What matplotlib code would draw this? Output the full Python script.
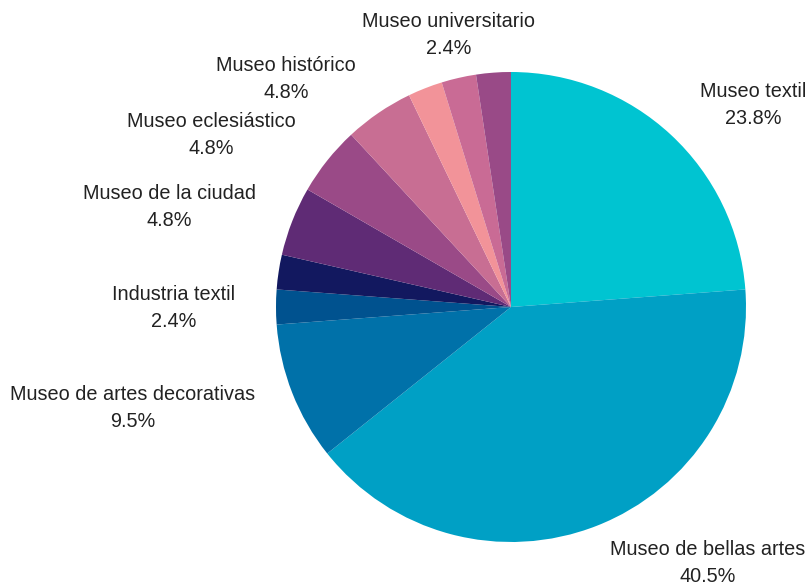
import matplotlib.pyplot as plt

plt.rcParams['font.family'] = ['Liberation Sans', 'DejaVu Sans']

# share of museums by type (counts out of 42)
names = ["Museo textil", "Museo de bellas artes", "Museo de artes decorativas",
         "Industria textil", "", "Museo de la ciudad", "Museo eclesiástico",
         "Museo histórico", "", "Museo universitario", ""]
counts = [10, 17, 4, 1, 1, 2, 2, 2, 1, 1, 1]
percent_labels = ["23.8%", "40.5%", "9.5%", "2.4%", "", "4.8%", "4.8%",
                  "4.8%", "", "2.4%", ""]

colors = ["#00C4D1", "#00A0C5", "#0071A9", "#00528F", "#12185F", "#5F2B75",
          "#9A4A87", "#C86E93", "#F29399", "#C96B95", "#994A87"]

# label centres in pie units (radius 1, centre 0,0)
label_pos = [(1.029, 0.86), (0.838, -1.089), (-1.609, -0.43),
             (-1.434, -0.004), None, (-1.455, 0.426), (-1.277, 0.732),
             (-0.957, 0.970), None, (-0.264, 1.157), None]

R = 235.0
cx, cy = 511.0, 307.0
W, H = 808, 585

fig = plt.figure(figsize=(W / 100, H / 100), dpi=100)
ax = fig.add_axes([0, 0, 1, 1])
ax.pie(counts, colors=colors, startangle=90, counterclock=False,
       wedgeprops=dict(linewidth=0))

for name, pct, pos in zip(names, percent_labels, label_pos):
    if pos is None:
        continue
    ax.text(pos[0], pos[1], name + "\n" + pct, ha="center", va="center",
            fontsize=14.3, color="#222222", linespacing=1.5)

ax.set_xlim(-cx / R, (W - cx) / R)
ax.set_ylim(-(H - cy) / R, cy / R)
ax.set_aspect("auto")
ax.axis("off")

plt.savefig("out.png", dpi=100)
